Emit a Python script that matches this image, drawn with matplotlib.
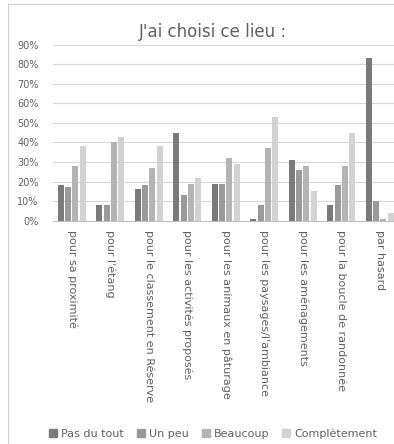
import matplotlib.pyplot as plt
import numpy as np
from matplotlib.lines import Line2D
from matplotlib.ticker import PercentFormatter

plt.rcParams["font.family"] = ["DejaVu Sans"]

# Data (percent)
categories = [
    "pour sa proximité",
    "pour l'étang",
    "pour le classement en Réserve",
    "pour les activités proposés",
    "pour les animaux en pâturage",
    "pour les paysages/l'ambiance",
    "pour les aménagements",
    "pour la boucle de randonnée",
    "par hasard",
]
series = ["Pas du tout", "Un peu", "Beaucoup", "Complètement"]
pas_du_tout = [18, 8, 16, 45, 19, 1, 31, 8, 83]
un_peu = [17, 8, 18, 13, 19, 8, 26, 18, 10]
beaucoup = [28, 40, 27, 19, 32, 37, 28, 28, 1]
completement = [38, 43, 38, 22, 29, 53, 15, 45, 4]
colors = ["#7a7a7a", "#9a9a9a", "#b4b4b4", "#d2d2d2"]

values = [pas_du_tout, un_peu, beaucoup, completement]
text_color = "#606060"

fig = plt.figure(figsize=(3.94, 4.44), dpi=100)
ax = fig.add_axes([52.5 / 394, 223.3 / 444, 346.5 / 394, 176 / 444])

x = np.arange(len(categories))
width = 0.16
step = 0.19
for k, (name, vals) in enumerate(zip(series, values)):
    ax.bar(x + (k - 1.5) * step, vals, width, color=colors[k], label=name, zorder=3)

ax.set_xlim(-0.5, len(categories) - 0.5)
ax.set_ylim(0, 90)
ax.set_yticks(np.arange(0, 91, 10))
ax.yaxis.set_major_formatter(PercentFormatter(decimals=0))
ax.grid(axis="y", color="#d9d9d9", linewidth=0.8, zorder=0)
for side in ["left", "right", "top"]:
    ax.spines[side].set_visible(False)
ax.spines["bottom"].set_color("#bfbfbf")
ax.tick_params(axis="both", length=0, labelsize=7, labelcolor=text_color)
ax.tick_params(axis="y", pad=10)
ax.tick_params(axis="x", pad=7)
ax.set_xticks(x)
ax.set_xticklabels(categories, rotation=-90, va="top", ha="center", fontsize=8)

fig.text(213 / 394, 1 - 32 / 444, "J'ai choisi ce lieu :", ha="center", va="center",
         fontsize=12, color=text_color)

handles = [plt.Rectangle((0, 0), 1, 1, color=c) for c in colors]
fig.legend(handles, series, loc="center", bbox_to_anchor=(213 / 394, 1 - 434 / 444),
           ncol=4, frameon=False, fontsize=8, labelcolor=text_color,
           handlelength=0.7, handleheight=0.7, handletextpad=0.35, columnspacing=1.2)

# chart frame edges
fig.add_artist(Line2D([8 / 394, 8 / 394], [0, 1 - 4 / 444], color="#d0d0d0", linewidth=0.8))
fig.add_artist(Line2D([8 / 394, 1], [1 - 4 / 444, 1 - 4 / 444], color="#d0d0d0", linewidth=0.8))

fig.savefig("out.png", dpi=100)
